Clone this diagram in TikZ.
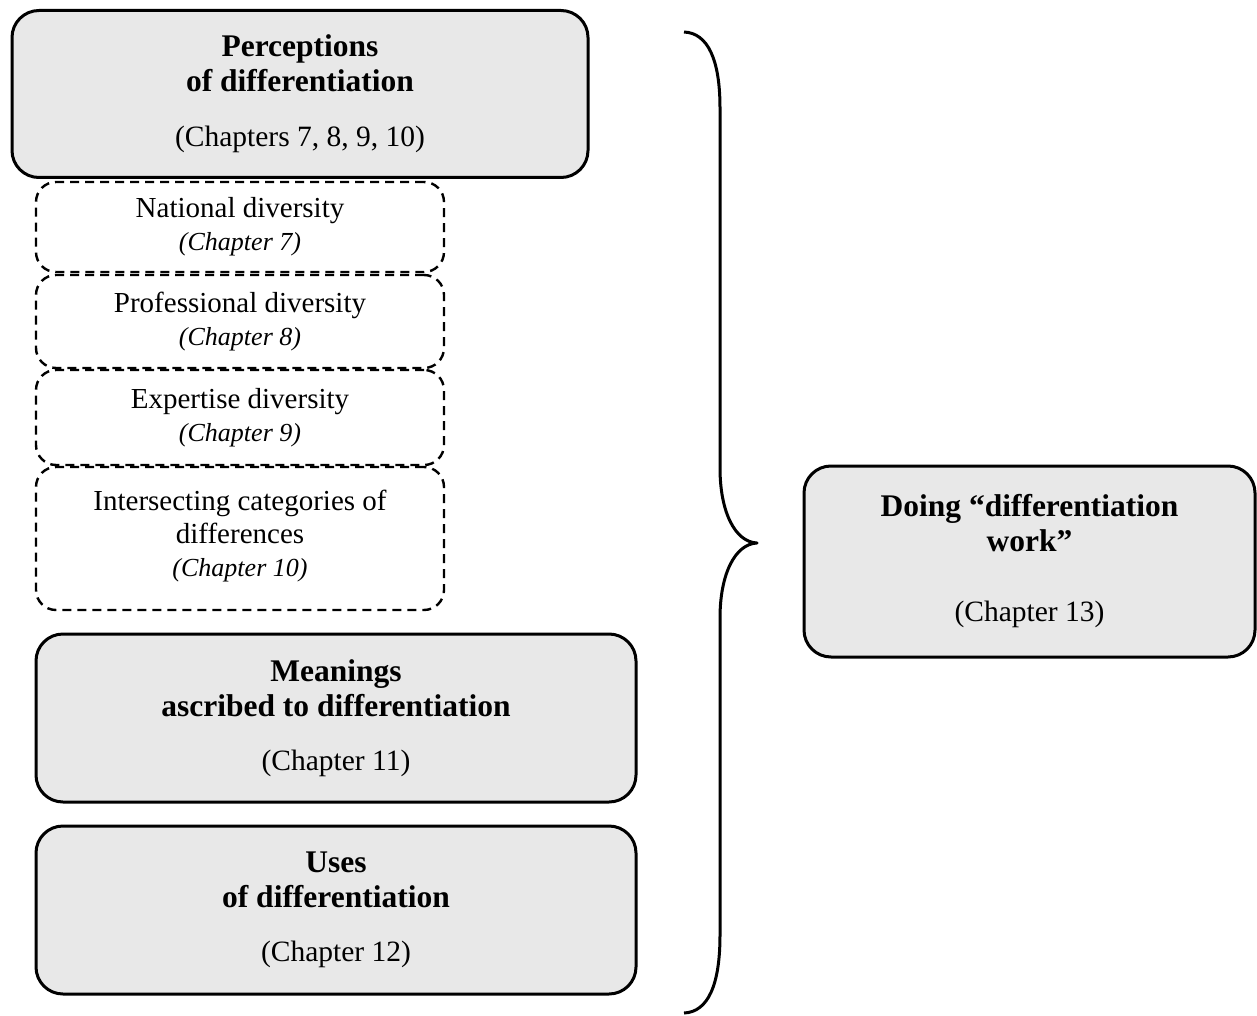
\documentclass[tikz,border=0pt]{standalone}
\usepackage{fontspec}
\setmainfont{Liberation Serif}
\definecolor{boxgray}{HTML}{E8E8E8}
\begin{document}
\begin{tikzpicture}[x=1pt,y=-1pt,
  solidbox/.style={draw, line width=3pt, fill=boxgray, rounded corners=27pt,
    inner sep=0pt, align=center, font=\fontsize{31.5}{35}\selectfont},
  dashbox/.style={draw, line width=2.4pt, dash pattern=on 9pt off 6pt,
    rounded corners=20pt, inner sep=0pt, minimum width=408pt,
    align=center, font=\fontsize{29}{33}\selectfont},
  chapfont/.style={font=\fontsize{29}{33}\selectfont},
]
\useasboundingbox (0,0) rectangle (1257,1016);

% main solid boxes
\node[solidbox, minimum width=576pt, minimum height=167pt] (perc) at (300,94)
  {\textbf{Perceptions}\\\textbf{of differentiation}\\[20pt]{\fontsize{29.5}{35}\selectfont (Chapters 7, 8, 9, 10)}};

\node[solidbox, minimum width=600pt, minimum height=168pt] (mean) at (336,718)
  {\textbf{Meanings}\\\textbf{ascribed to differentiation}\\[19pt]{\fontsize{29.5}{35}\selectfont (Chapter 11)}};

\node[solidbox, minimum width=600pt, minimum height=168pt] (uses) at (336,910)
  {\textbf{Uses}\\\textbf{of differentiation}\\[19pt]{\fontsize{29.5}{35}\selectfont (Chapter 12)}};

\node[solidbox, minimum width=451pt, minimum height=191pt] (doing) at (1029.5,561.5)
  {\textbf{Doing “differentiation}\\\textbf{work”}\\[35pt]{\fontsize{29.5}{35}\selectfont (Chapter 13)}};

% dashed sub-boxes
\node[dashbox, minimum height=90pt] (nat) at (240,227)
  {National diversity\\{\fontsize{26}{33}\selectfont\itshape (Chapter 7)}};
\node[dashbox, minimum height=93pt] (prof) at (240,321.5)
  {Professional diversity\\{\fontsize{26}{33}\selectfont\itshape (Chapter 8)}};
\node[dashbox, minimum height=95pt] (exp) at (240,417.5)
  {Expertise diversity\\{\fontsize{26}{33}\selectfont\itshape (Chapter 9)}};
\node[dashbox, minimum height=143pt] (inter) at (240,538.5) {};
\node[chapfont, align=center] (intertext) at (240,536)
  {Intersecting categories of\\differences\\{\fontsize{26}{33}\selectfont\itshape (Chapter 10)}};

% curly brace
\coordinate (btop) at (684,32);
\coordinate (btip) at (757,543);
\coordinate (bbot) at (684,1013);
\draw[line width=3pt, line join=round]
  (btop) .. controls (708,33) and (720,60) .. (720,108)
  -- (720,468) .. controls (720,512) and (735,542) .. (btip)
  .. controls (735,544) and (720,574) .. (720,618)
  -- (720,935) .. controls (720,985) and (708,1012) .. (bbot);
\end{tikzpicture}
\end{document}
